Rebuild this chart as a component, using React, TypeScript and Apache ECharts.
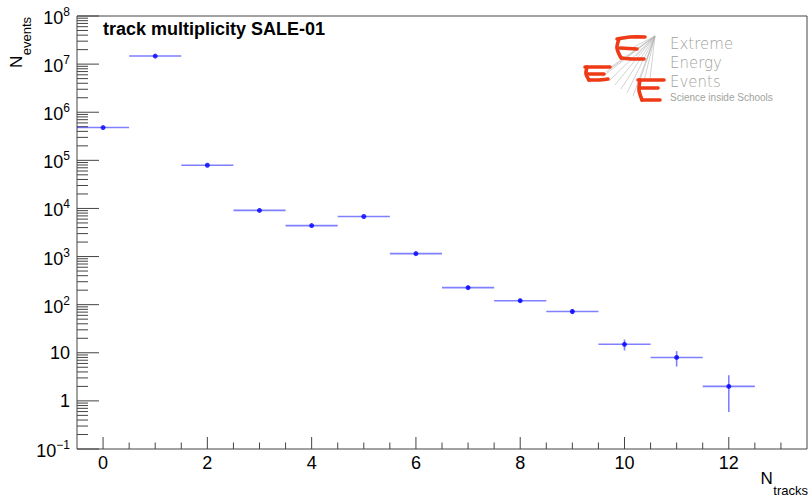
import React, { useEffect, useRef } from "react";
import * as echarts from "echarts";

// ---- data ----
const nTracks = [0, 1, 2, 3, 4, 5, 6, 7, 8, 9, 10, 11, 12];
const nEvents = [480000, 14700000, 79000, 9100, 4400, 6800, 1150, 226, 121, 72, 15, 8, 2];
const xTickLabels = [0, 2, 4, 6, 8, 10, 12];
const xTicks = [0, 0.5, 1, 1.5, 2, 2.5, 3, 3.5, 4, 4.5, 5, 5.5, 6, 6.5, 7, 7.5, 8, 8.5, 9, 9.5, 10, 10.5, 11, 11.5, 12, 12.5, 13];
const yDecades = [0.1, 1, 10, 100, 1e3, 1e4, 1e5, 1e6, 1e7, 1e8];
const xRange = [-0.5, 13.5];
const yRange = [0.1, 1e8];
const titleText = "track multiplicity SALE-01";
const logoWords = ["Extreme", "Energy", "Events"];
const logoTagline = "Science inside Schools";

const FONT = '"Liberation Sans", Arial, Helvetica, sans-serif';

let measureCtx: CanvasRenderingContext2D | null = null;
function textWidth(t: string, size: number, weight = "normal") {
  if (!measureCtx) measureCtx = document.createElement("canvas").getContext("2d");
  if (!measureCtx) return t.length * size * 0.55;
  measureCtx.font = `${weight} ${size}px ${FONT}`;
  return measureCtx.measureText(t).width;
}

const yMinor: number[] = [];
for (let i = 0; i < yDecades.length - 1; i++) {
  for (let k = 2; k <= 9; k++) yMinor.push(k * yDecades[i]);
}

export default function App() {
  const ref = useRef<HTMLDivElement>(null);

  useEffect(() => {
    document.body.style.margin = "0";
    if (!ref.current) return;
    const chart = echarts.init(ref.current, undefined, { renderer: "svg" });

    const frameColor = "#444";
    const errColor = "rgba(0,0,255,0.5)";

    const yTickData = [
      ...yDecades.map((v) => [xRange[0], v, 1]),
      ...yMinor.map((v) => [xRange[0], v, 0]),
    ];
    const xTickData = xTicks.map((v) => [v, yRange[0], xTickLabels.indexOf(v) >= 0 ? 1 : 0]);
    const pointData = nTracks.map((t, i) => [t, nEvents[i]]);
    const errData = nTracks.map((t, i) => [t, nEvents[i], Math.sqrt(nEvents[i])]);

    const red = "#ee3a16";
    const redStyle = { stroke: red, lineWidth: 3.6, fill: null, lineCap: "round", lineJoin: "round" };
    const E = (pts: number[][][]) =>
      pts.map((p) => ({ type: "polyline", shape: { points: p, smooth: 0.3 }, style: redStyle, silent: true }));
    const apex = [655, 36];
    const fanEnds = [
      [611, 67], [606, 72], [602, 77], [609, 81], [615, 85], [621, 89], [627, 93], [633, 96],
      [639, 83], [644, 81], [650, 79], [628, 50], [636, 56], [646, 62],
    ];

    const grey = "#a0a49c";

    const option: any = {
      animation: false,
      backgroundColor: "#fff",
      grid: { left: 77, right: 2, top: 16, bottom: 50, show: true, borderColor: frameColor, borderWidth: 1, backgroundColor: "transparent" },
      xAxis: {
        type: "value",
        min: xRange[0],
        max: xRange[1],
        axisLine: { show: false },
        axisTick: { show: false },
        axisLabel: { show: false },
        splitLine: { show: false },
      },
      yAxis: {
        type: "log",
        logBase: 10,
        min: yRange[0],
        max: yRange[1],
        axisLine: { show: false },
        axisTick: { show: false },
        axisLabel: { show: false },
        splitLine: { show: false },
      },
      series: [
        {
          type: "custom",
          name: "yTicks",
          silent: true,
          clip: false,
          data: yTickData,
          renderItem: (params: any, api: any) => {
            const v = api.value(1);
            const major = api.value(2) === 1;
            const p = api.coord([api.value(0), v]);
            const children: any[] = [
              {
                type: "line",
                shape: { x1: p[0], y1: p[1], x2: p[0] + (major ? 22 : 11), y2: p[1] },
                style: { stroke: frameColor, lineWidth: 1 },
              },
            ];
            if (major) {
              const e = Math.round(Math.log10(v));
              const right = p[0] - 7;
              if (e === 0 || e === 1) {
                children.push({
                  type: "text",
                  x: right,
                  y: p[1] + 0.5,
                  style: { text: e === 0 ? "1" : "10", fill: "#000", fontSize: 18, fontFamily: FONT, align: "right", verticalAlign: "middle" },
                });
              } else {
                const expText = e < 0 ? "\u2212" + -e : String(e);
                const ew = textWidth(expText, 12);
                children.push({
                  type: "text",
                  x: right,
                  y: p[1] - 4,
                  style: { text: expText, fill: "#000", fontSize: 12, fontFamily: FONT, align: "right", verticalAlign: "middle" },
                });
                children.push({
                  type: "text",
                  x: right - ew,
                  y: p[1] + 2,
                  style: { text: "10", fill: "#000", fontSize: 18, fontFamily: FONT, align: "right", verticalAlign: "middle" },
                });
              }
            }
            return { type: "group", children };
          },
        },
        {
          type: "custom",
          name: "xTicks",
          silent: true,
          clip: false,
          data: xTickData,
          renderItem: (params: any, api: any) => {
            const v = api.value(0);
            const major = api.value(2) === 1;
            const p = api.coord([v, api.value(1)]);
            const children: any[] = [
              {
                type: "line",
                shape: { x1: p[0], y1: p[1], x2: p[0], y2: p[1] - (major ? 12 : 6.5) },
                style: { stroke: frameColor, lineWidth: 1 },
              },
            ];
            if (major) {
              children.push({
                type: "text",
                x: p[0],
                y: p[1] + 13.5,
                style: { text: String(v), fill: "#000", fontSize: 18, fontFamily: FONT, align: "center", verticalAlign: "middle" },
              });
            }
            return { type: "group", children };
          },
        },
        {
          type: "custom",
          name: "errors",
          silent: true,
          data: errData,
          renderItem: (params: any, api: any) => {
            const x = api.value(0);
            const y = api.value(1);
            const e = api.value(2);
            const l = api.coord([x - 0.5, y]);
            const r = api.coord([x + 0.5, y]);
            const t = api.coord([x, y + e]);
            const b = api.coord([x, Math.max(y - e, yRange[0])]);
            return {
              type: "group",
              children: [
                { type: "line", shape: { x1: l[0], y1: l[1], x2: r[0], y2: r[1] }, style: { stroke: errColor, lineWidth: 1.6 } },
                { type: "line", shape: { x1: t[0], y1: t[1], x2: b[0], y2: b[1] }, style: { stroke: errColor, lineWidth: 1.6 } },
              ],
            };
          },
        },
        {
          type: "scatter",
          name: "track multiplicity",
          symbol: "circle",
          symbolSize: 5,
          itemStyle: { color: "#0000ff" },
          data: pointData,
          silent: true,
        },
      ],
      graphic: [
        {
          type: "text",
          x: 103,
          y: 29,
          style: { text: titleText, fill: "#000", fontSize: 18, fontWeight: "bold", fontFamily: FONT, align: "left", verticalAlign: "middle" },
        },
        // x axis title N_tracks
        {
          type: "text",
          x: 808,
          y: 490.5,
          style: { text: "tracks", fill: "#000", fontSize: 13, fontFamily: FONT, align: "right", verticalAlign: "middle" },
        },
        {
          type: "text",
          x: 808 - textWidth("tracks", 13) - 0.5,
          y: 478,
          style: { text: "N", fill: "#000", fontSize: 17, fontFamily: FONT, align: "right", verticalAlign: "middle" },
        },
        // y axis title N_events (rotated)
        {
          type: "group",
          x: 0,
          y: 17,
          rotation: Math.PI / 2,
          children: [
            {
              type: "text",
              x: 0,
              y: 26.5,
              style: { text: "events", fill: "#000", fontSize: 13, fontFamily: FONT, align: "right", verticalAlign: "middle" },
            },
            {
              type: "text",
              x: -textWidth("events", 13) - 0.5,
              y: 16,
              style: { text: "N", fill: "#000", fontSize: 17, fontFamily: FONT, align: "right", verticalAlign: "middle" },
            },
          ],
        },
        // EEE logo
        ...fanEnds.map((pt) => ({
          type: "line",
          silent: true,
          shape: { x1: apex[0], y1: apex[1], x2: pt[0], y2: pt[1] },
          style: { stroke: "#b4b4b4", lineWidth: 0.6 },
        })),
        ...E([
          [[617, 39], [630, 37], [645, 37]],
          [[619, 39], [617, 48], [621, 58]],
          [[620, 48], [637, 49]],
          [[622, 58], [633, 59], [644, 59]],
        ]),
        ...E([
          [[585, 67], [597, 67], [610, 67]],
          [[587, 67], [586, 74], [589, 80]],
          [[588, 74], [604, 74]],
          [[589, 80], [598, 80], [608, 79]],
        ]),
        ...E([
          [[638, 80], [651, 80], [664, 80]],
          [[640, 80], [639, 90], [642, 100]],
          [[641, 88], [658, 88]],
          [[642, 100], [651, 100], [660, 100]],
        ]),
        ...logoWords.map((w, i) => ({
          type: "text",
          x: 670,
          y: 43.5 + i * 19.3,
          silent: true,
          style: { text: w, fill: grey, fontSize: 15, fontWeight: 200, fontFamily: '"DejaVu Sans", sans-serif', align: "left", verticalAlign: "middle" },
        })),
        {
          type: "text",
          x: 670,
          y: 97.5,
          silent: true,
          style: { text: logoTagline, fill: grey, fontSize: 10, fontFamily: FONT, align: "left", verticalAlign: "middle" },
        },
      ],
    };

    chart.setOption(option);
    return () => chart.dispose();
  }, []);

  return <div ref={ref} style={{ width: 809, height: 499 }} />;
}
